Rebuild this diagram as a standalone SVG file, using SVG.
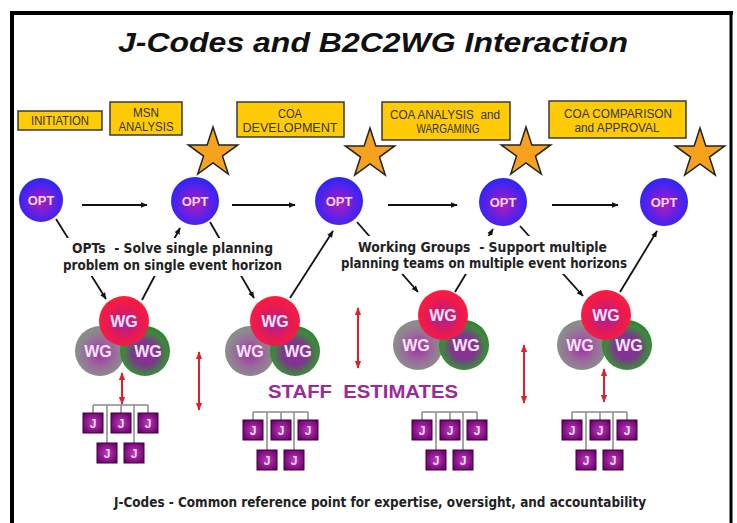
<svg xmlns="http://www.w3.org/2000/svg" width="737" height="523" viewBox="0 0 737 523">
<style>
.box{fill:#FFCB05;stroke:#3a3a3a;stroke-width:1.5}
.lbl{font-family:"Liberation Sans",Arial,sans-serif;font-size:12.5px;fill:#333;text-anchor:middle}
.opt{fill:url(#gOpt)}
.ot{font-family:"Liberation Sans",Arial,sans-serif;font-weight:bold;font-size:13px;fill:#F4D8F4;text-anchor:middle}
.wt{font-family:"Liberation Sans",Arial,sans-serif;font-weight:bold;font-size:16px;fill:#F8E4F8;text-anchor:middle}
.star{fill:#F7A21E;stroke:#222;stroke-width:1.5;stroke-linejoin:miter}
.desc{font-family:"DejaVu Sans Condensed","DejaVu Sans",sans-serif;font-weight:bold;font-size:14px;fill:#222;text-anchor:middle}
.ar{fill:none;stroke:#111;stroke-width:1.8;marker-end:url(#ah)}
.rar{fill:none;stroke:#E0202A;stroke-width:2;marker-start:url(#rh);marker-end:url(#rh)}
.tree{fill:none;stroke:#8a8a8a;stroke-width:1.5}
.jb{fill:url(#gJ);stroke:#3a003a;stroke-width:1}
.jt{font-family:"Liberation Sans",Arial,sans-serif;font-weight:bold;font-size:12px;fill:#F2DCF2;text-anchor:middle}
</style>
<defs>
<radialGradient id="gOpt" cx="50%" cy="55%" r="55%">
<stop offset="0" stop-color="#B21CB4"/>
<stop offset="0.5" stop-color="#6C1FE0"/>
<stop offset="1" stop-color="#2828F6"/>
</radialGradient>
<radialGradient id="gRed" cx="50%" cy="55%" r="55%">
<stop offset="0" stop-color="#A8209A"/>
<stop offset="0.55" stop-color="#E21A58"/>
<stop offset="1" stop-color="#FF1C3A"/>
</radialGradient>
<radialGradient id="gGray" cx="50%" cy="55%" r="55%">
<stop offset="0" stop-color="#A030A6"/>
<stop offset="0.5" stop-color="#9A6A9C"/>
<stop offset="0.85" stop-color="#8C8C8C"/>
<stop offset="1" stop-color="#8A8A8A"/>
</radialGradient>
<radialGradient id="gGreen" cx="50%" cy="55%" r="55%">
<stop offset="0" stop-color="#9A22A8"/>
<stop offset="0.45" stop-color="#7A3A8A"/>
<stop offset="0.8" stop-color="#3C8A3C"/>
<stop offset="1" stop-color="#2E802E"/>
</radialGradient>
<radialGradient id="gJ" cx="50%" cy="50%" r="60%">
<stop offset="0" stop-color="#B83CB8"/>
<stop offset="1" stop-color="#700070"/>
</radialGradient>
<marker id="ah" viewBox="0 0 10 10" refX="9" refY="5" markerWidth="7" markerHeight="7" markerUnits="userSpaceOnUse" orient="auto">
<path d="M0,1 L10,5 L0,9 Z" fill="#111"/>
</marker>
<marker id="rh" viewBox="0 0 10 10" refX="9" refY="5" markerWidth="8" markerHeight="8" markerUnits="userSpaceOnUse" orient="auto-start-reverse">
<path d="M0,1 L10,5 L0,9 Z" fill="#E0202A"/>
</marker>
<path id="starShape" d="M0,-26 L5.84,-8.03 L24.73,-8.03 L9.45,3.07 L15.28,21.03 L0,9.93 L-15.28,21.03 L-9.45,3.07 L-24.73,-8.03 L-5.84,-8.03 Z"/>
</defs>

<rect x="0" y="0" width="737" height="523" fill="#fff"/>

<g id="frame" stroke="#000" fill="none">
<line x1="10" y1="13" x2="733" y2="13" stroke-width="4"/>
<line x1="12" y1="11" x2="12" y2="523" stroke-width="4"/>
<line x1="731" y1="11" x2="731" y2="523" stroke-width="3"/>
</g>

<text id="title" x="373" y="52" font-family="Liberation Sans,Arial,sans-serif" font-weight="bold" font-style="italic" font-size="28" text-anchor="middle" textLength="510" lengthAdjust="spacingAndGlyphs" fill="#111">J-Codes and B2C2WG Interaction</text>

<g id="phase-initiation">
<rect class="box" x="18" y="111" width="84" height="19"/>
<text class="lbl" x="60" y="124.5" font-size="11" textLength="58" lengthAdjust="spacingAndGlyphs">INITIATION</text>
</g>
<g id="phase-msn">
<rect class="box" x="110" y="102" width="72" height="33"/>
<text class="lbl" x="146" y="117" textLength="26" lengthAdjust="spacingAndGlyphs">MSN</text>
<text class="lbl" x="146" y="131" textLength="55" lengthAdjust="spacingAndGlyphs">ANALYSIS</text>
</g>
<g id="phase-coadev">
<rect class="box" x="237" y="102" width="107" height="35"/>
<text class="lbl" x="290" y="118" textLength="24" lengthAdjust="spacingAndGlyphs">COA</text>
<text class="lbl" x="290" y="132" textLength="95" lengthAdjust="spacingAndGlyphs">DEVELOPMENT</text>
</g>
<g id="phase-coaanalysis">
<rect class="box" x="382" y="102" width="128" height="38"/>
<text class="lbl" x="445" y="119" textLength="110" lengthAdjust="spacingAndGlyphs" style="white-space:pre">COA ANALYSIS  and</text>
<text class="lbl" x="448" y="133" textLength="63" lengthAdjust="spacingAndGlyphs">WARGAMING</text>
</g>
<g id="phase-coacomparison">
<rect class="box" x="549" y="101" width="137" height="37"/>
<text class="lbl" x="618" y="118" textLength="108" lengthAdjust="spacingAndGlyphs">COA COMPARISON</text>
<text class="lbl" x="617" y="132" textLength="85" lengthAdjust="spacingAndGlyphs">and APPROVAL</text>
</g>

<g id="connectors">
<line class="ar" x1="82" y1="205" x2="147" y2="205"/>
<line class="ar" x1="232" y1="205" x2="295" y2="205"/>
<line class="ar" x1="388" y1="205" x2="457" y2="205"/>
<line class="ar" x1="552" y1="205" x2="618" y2="205"/>
<line class="ar" x1="56" y1="219" x2="106" y2="299"/>
<line class="ar" x1="142" y1="300" x2="180" y2="228"/>
<line class="ar" x1="210" y1="222" x2="254" y2="298"/>
<line class="ar" x1="290" y1="298" x2="333" y2="231"/>
<line class="ar" x1="357" y1="222" x2="418" y2="292"/>
<line class="ar" x1="455" y1="292" x2="493" y2="229"/>
<line class="ar" x1="520" y1="226" x2="583" y2="296"/>
<line class="ar" x1="620" y1="292" x2="657" y2="231"/>
<line class="rar" x1="122" y1="373" x2="122" y2="404"/>
<line class="rar" x1="199" y1="352" x2="199" y2="410"/>
<line class="rar" x1="358" y1="308" x2="358" y2="368"/>
<line class="rar" x1="524" y1="345" x2="524" y2="403"/>
<line class="rar" x1="604" y1="369" x2="604" y2="402"/>
</g>

<g id="stars">
<use href="#starShape" class="star" transform="translate(213,153)"/>
<use href="#starShape" class="star" transform="translate(370,154)"/>
<use href="#starShape" class="star" transform="translate(526,153)"/>
<use href="#starShape" class="star" transform="translate(700,154)"/>
</g>

<g id="opt1"><circle class="opt" cx="41" cy="200" r="22"/><text class="ot" x="41" y="205">OPT</text></g>
<g id="opt2"><circle class="opt" cx="195" cy="201" r="24"/><text class="ot" x="195" y="206">OPT</text></g>
<g id="opt3"><circle class="opt" cx="339" cy="201" r="24"/><text class="ot" x="339" y="206">OPT</text></g>
<g id="opt4"><circle class="opt" cx="503" cy="202" r="24"/><text class="ot" x="503" y="207">OPT</text></g>
<g id="opt5"><circle class="opt" cx="664" cy="202" r="24"/><text class="ot" x="664" y="207">OPT</text></g>

<g id="note-opts">
<rect x="62" y="238" width="222" height="38" fill="#fff"/>
<text class="desc" x="172.5" y="253" textLength="201" lengthAdjust="spacingAndGlyphs" style="white-space:pre">OPTs  - Solve single planning</text>
<text class="desc" x="172.5" y="270" textLength="219" lengthAdjust="spacingAndGlyphs">problem on single event horizon</text>
</g>
<g id="note-wg">
<rect x="339" y="236" width="291" height="38" fill="#fff"/>
<text class="desc" x="482.5" y="252" textLength="249" lengthAdjust="spacingAndGlyphs" style="white-space:pre">Working Groups  - Support multiple</text>
<text class="desc" x="484" y="268" textLength="286" lengthAdjust="spacingAndGlyphs">planning teams on multiple event horizons</text>
</g>

<g id="wg1">
<circle cx="100" cy="351" r="25" fill="url(#gGray)"/>
<circle cx="145" cy="351" r="25" fill="url(#gGreen)"/>
<circle cx="124" cy="321" r="25" fill="url(#gRed)"/>
<text class="wt" x="124" y="327">WG</text>
<text class="wt" x="98" y="357">WG</text>
<text class="wt" x="148" y="357">WG</text>
</g>
<g id="wg2">
<circle cx="250" cy="351" r="25" fill="url(#gGray)"/>
<circle cx="295" cy="351" r="25" fill="url(#gGreen)"/>
<circle cx="275" cy="321" r="25" fill="url(#gRed)"/>
<text class="wt" x="275" y="327">WG</text>
<text class="wt" x="250" y="357">WG</text>
<text class="wt" x="298" y="357">WG</text>
</g>
<g id="wg3">
<circle cx="418" cy="345" r="25" fill="url(#gGray)"/>
<circle cx="464" cy="345" r="25" fill="url(#gGreen)"/>
<circle cx="443" cy="315" r="25" fill="url(#gRed)"/>
<text class="wt" x="443" y="321">WG</text>
<text class="wt" x="416" y="351">WG</text>
<text class="wt" x="466" y="351">WG</text>
</g>
<g id="wg4">
<circle cx="582" cy="345" r="25" fill="url(#gGray)"/>
<circle cx="627" cy="345" r="25" fill="url(#gGreen)"/>
<circle cx="606" cy="315" r="25" fill="url(#gRed)"/>
<text class="wt" x="606" y="321">WG</text>
<text class="wt" x="580" y="351">WG</text>
<text class="wt" x="629" y="351">WG</text>
</g>

<text id="staff" x="363" y="398" font-family="Liberation Sans,Arial,sans-serif" font-weight="bold" font-size="18" fill="#9A2A9A" text-anchor="middle" textLength="190" lengthAdjust="spacingAndGlyphs" style="white-space:pre">STAFF  ESTIMATES</text>

<g id="jcodes1">
<path class="tree" d="M93,405 H148 M93,405 V413 M107,405 V443 M121,405 V413 M134,405 V443 M148,405 V413"/>
<rect class="jb" x="83" y="413" width="20" height="20"/><text class="jt" x="93" y="427.5">J</text>
<rect class="jb" x="111" y="413" width="20" height="20"/><text class="jt" x="121" y="427.5">J</text>
<rect class="jb" x="138" y="413" width="20" height="20"/><text class="jt" x="148" y="427.5">J</text>
<rect class="jb" x="97" y="443" width="20" height="20"/><text class="jt" x="107" y="457.5">J</text>
<rect class="jb" x="124" y="443" width="20" height="20"/><text class="jt" x="134" y="457.5">J</text>
</g>
<g id="jcodes2" transform="translate(160,7)">
<path class="tree" d="M93,405 H148 M93,405 V413 M107,405 V443 M121,405 V413 M134,405 V443 M148,405 V413"/>
<rect class="jb" x="83" y="413" width="20" height="20"/><text class="jt" x="93" y="427.5">J</text>
<rect class="jb" x="111" y="413" width="20" height="20"/><text class="jt" x="121" y="427.5">J</text>
<rect class="jb" x="138" y="413" width="20" height="20"/><text class="jt" x="148" y="427.5">J</text>
<rect class="jb" x="97" y="443" width="20" height="20"/><text class="jt" x="107" y="457.5">J</text>
<rect class="jb" x="124" y="443" width="20" height="20"/><text class="jt" x="134" y="457.5">J</text>
</g>
<g id="jcodes3" transform="translate(329,7)">
<path class="tree" d="M93,405 H148 M93,405 V413 M107,405 V443 M121,405 V413 M134,405 V443 M148,405 V413"/>
<rect class="jb" x="83" y="413" width="20" height="20"/><text class="jt" x="93" y="427.5">J</text>
<rect class="jb" x="111" y="413" width="20" height="20"/><text class="jt" x="121" y="427.5">J</text>
<rect class="jb" x="138" y="413" width="20" height="20"/><text class="jt" x="148" y="427.5">J</text>
<rect class="jb" x="97" y="443" width="20" height="20"/><text class="jt" x="107" y="457.5">J</text>
<rect class="jb" x="124" y="443" width="20" height="20"/><text class="jt" x="134" y="457.5">J</text>
</g>
<g id="jcodes4" transform="translate(479,7)">
<path class="tree" d="M93,405 H148 M93,405 V413 M107,405 V443 M121,405 V413 M134,405 V443 M148,405 V413"/>
<rect class="jb" x="83" y="413" width="20" height="20"/><text class="jt" x="93" y="427.5">J</text>
<rect class="jb" x="111" y="413" width="20" height="20"/><text class="jt" x="121" y="427.5">J</text>
<rect class="jb" x="138" y="413" width="20" height="20"/><text class="jt" x="148" y="427.5">J</text>
<rect class="jb" x="97" y="443" width="20" height="20"/><text class="jt" x="107" y="457.5">J</text>
<rect class="jb" x="124" y="443" width="20" height="20"/><text class="jt" x="134" y="457.5">J</text>
</g>

<text id="footer" class="desc" x="380" y="507" font-size="13" textLength="532" lengthAdjust="spacingAndGlyphs">J-Codes - Common reference point for expertise, oversight, and accountability</text>
</svg>
